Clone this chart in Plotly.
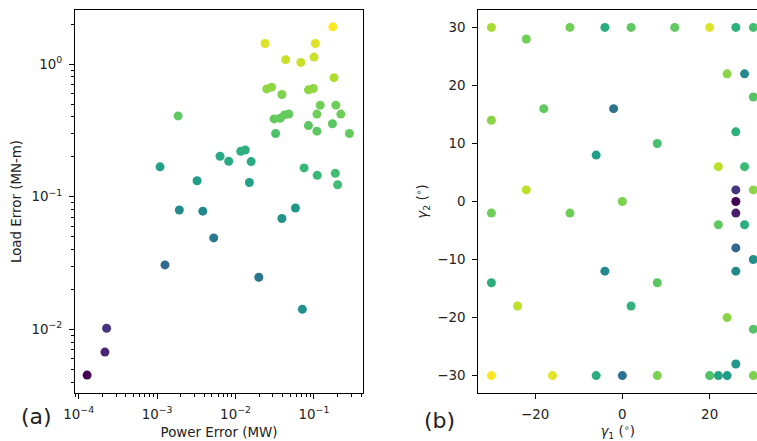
import plotly.graph_objects as go

# Panel (a): power error vs load error
power_err = [0.174, 0.0238, 0.104, 0.0436, 0.068, 0.100, 0.180, 0.025, 0.0288, 0.039,
             0.085, 0.098, 0.120, 0.190, 0.109, 0.220, 0.031, 0.037, 0.042, 0.0478,
             0.085, 0.109, 0.172, 0.283, 0.0324, 0.00185, 0.00109, 0.00634, 0.00818, 0.01165,
             0.0133, 0.0158, 0.00323, 0.0150, 0.0748, 0.110, 0.187, 0.200, 0.00192, 0.00382,
             0.058, 0.039, 0.00527, 0.00126, 0.0198, 0.0711, 0.000227, 0.000216, 0.000128]
load_err = [1.91, 1.43, 1.43, 1.08, 1.03, 1.13, 0.79, 0.65, 0.67, 0.59,
            0.64, 0.655, 0.49, 0.49, 0.42, 0.42, 0.386, 0.39, 0.414, 0.42,
            0.344, 0.312, 0.355, 0.30, 0.30, 0.407, 0.168, 0.202, 0.185, 0.22,
            0.225, 0.184, 0.132, 0.128, 0.165, 0.145, 0.15, 0.123, 0.0794, 0.0778,
            0.0823, 0.0685, 0.0489, 0.0306, 0.0247, 0.01415, 0.0102, 0.00674, 0.00452]
color_a = [1.0, 0.95, 0.95, 0.92, 0.92, 0.92, 0.88, 0.83, 0.83, 0.80,
           0.83, 0.83, 0.78, 0.78, 0.78, 0.78, 0.76, 0.76, 0.76, 0.76,
           0.74, 0.74, 0.74, 0.76, 0.72, 0.75, 0.57, 0.60, 0.60, 0.63,
           0.63, 0.60, 0.55, 0.57, 0.67, 0.67, 0.69, 0.69, 0.47, 0.47,
           0.53, 0.51, 0.40, 0.34, 0.38, 0.50, 0.15, 0.10, 0.0]

# Panel (b): gamma1 vs gamma2
gamma1 = [-30, -12, -4, 2, 12, 20, 26, 30, -22, 24, 28, 30, -18, -2, -30, 26, 8, -6,
          22, 28, -22, 26, 30, 0, 26, -30, -12, 26, 22, 28, 26, 30, -4, 26, -30, 8,
          -24, 2, 24, 30, 26, -30, -16, -6, 0, 8, 20, 22, 24, 30]
gamma2 = [30, 30, 30, 30, 30, 30, 30, 30, 28, 22, 22, 18, 16, 16, 14, 12, 10, 8,
          6, 6, 2, 2, 2, 0, 0, -2, -2, -2, -4, -4, -8, -10, -12, -12, -14, -14,
          -18, -18, -20, -22, -28, -30, -30, -30, -30, -30, -30, -30, -30, -30]
color_b = [0.87, 0.78, 0.62, 0.75, 0.75, 0.95, 0.63, 0.70, 0.78, 0.82, 0.47, 0.73, 0.75, 0.38, 0.82, 0.63, 0.71, 0.56,
           0.90, 0.68, 0.90, 0.15, 0.82, 0.80, 0.0, 0.78, 0.78, 0.08, 0.75, 0.62, 0.33, 0.50, 0.47, 0.47, 0.62, 0.74,
           0.90, 0.65, 0.82, 0.73, 0.53, 1.0, 0.96, 0.62, 0.38, 0.80, 0.72, 0.58, 0.55, 0.80]

log_major = [1e-4, 1e-3, 1e-2, 1e-1]
log_major_text = ["10<sup>−4</sup>", "10<sup>−3</sup>", "10<sup>−2</sup>", "10<sup>−1</sup>"]
y_major = [1e-2, 1e-1, 1e0]
y_major_text = ["10<sup>−2</sup>", "10<sup>−1</sup>", "10<sup>0</sup>"]

def minors(decades):
    return [m * 10 ** d for d in decades for m in range(2, 10)]

FONT = "DejaVu Sans"
FS = 13.4
W, H = 757, 441
ML, MT, MB, MR = 75, 10, 48.3, 0
PW, PH = W - ML - MR, H - MT - MB

def px_x(px):
    return (px - ML) / PW

def px_y(py):
    return (H - MB - py) / PH

fig = go.Figure()
fig.add_trace(go.Scatter(
    x=power_err, y=load_err, mode="markers", xaxis="x", yaxis="y",
    marker=dict(size=9, color=color_a, colorscale="Viridis", cmin=0, cmax=1, line=dict(width=0)),
    showlegend=False))
fig.add_trace(go.Scatter(
    x=gamma1, y=gamma2, mode="markers", xaxis="x2", yaxis="y2",
    marker=dict(size=9, color=color_b, colorscale="Viridis", cmin=0, cmax=1, line=dict(width=0)),
    showlegend=False))

axis_common = dict(showgrid=False, zeroline=False, showline=True, linecolor="black", linewidth=1,
                   ticks="outside", ticklen=5, tickwidth=1, tickcolor="black", automargin=False,
                   ticklabelstandoff=4, tickfont=dict(family=FONT, size=FS, color="#222"))
minor_common = dict(ticks="outside", ticklen=3, tickcolor="black", tickwidth=1)
title_font = dict(family=FONT, size=FS, color="#222")

fig.update_layout(
    width=W, height=H, margin=dict(l=ML, r=MR, t=MT, b=MB, autoexpand=False),
    paper_bgcolor="white", plot_bgcolor="white",
    font=dict(family=FONT, size=FS, color="#222"),
    xaxis=dict(axis_common, type="log", domain=[0, px_x(363)], range=[-4.047, -0.375],
               anchor="y", mirror=True,
               tickmode="array", tickvals=log_major, ticktext=log_major_text,
               minor=dict(minor_common, tickmode="array", tickvals=minors([-5, -4, -3, -2, -1])),
               title=dict(text="Power Error (MW)", standoff=6, font=title_font)),
    yaxis=dict(axis_common, type="log", domain=[0, 1], range=[-2.48, 0.408],
               anchor="x", mirror=True,
               tickmode="array", tickvals=y_major, ticktext=y_major_text,
               minor=dict(minor_common, tickmode="array", tickvals=minors([-3, -2, -1, 0])),
               title=dict(text="Load Error (MN-m)", standoff=6, font=title_font)),
    xaxis2=dict(axis_common, domain=[px_x(478.3), 1.0], range=[-33, 30.85], anchor="y2", mirror=True,
                tickmode="array", tickvals=[-20, 0, 20], ticktext=["−20", "0", "20"],
                title=dict(text="<i>γ</i><sub>1</sub> (<sup>∘</sup>)", standoff=6, font=title_font)),
    yaxis2=dict(axis_common, domain=[0, 1], range=[-33, 33], anchor="x2", mirror=False,
                tickmode="array", tickvals=[-30, -20, -10, 0, 10, 20, 30],
                ticktext=["−30", "−20", "−10", "0", "10", "20", "30"],
                title=dict(text="<i>γ</i><sub>2</sub> (<sup>∘</sup>)", standoff=6, font=title_font)),
    annotations=[
        dict(text="(a)", x=px_x(36.7), y=px_y(416), xref="paper", yref="paper",
             xanchor="center", yanchor="middle", showarrow=False,
             font=dict(family=FONT, size=22, color="#222")),
        dict(text="(b)", x=px_x(439), y=px_y(420), xref="paper", yref="paper",
             xanchor="center", yanchor="middle", showarrow=False,
             font=dict(family=FONT, size=22, color="#222")),
    ],
)

# remove the browser's default 8px body margin so the figure fills the 757x441 window exactly
fig.write_html("out.html",
               config={"displayModeBar": False},
               post_script="document.body.style.margin='0';document.body.style.overflow='hidden';")
